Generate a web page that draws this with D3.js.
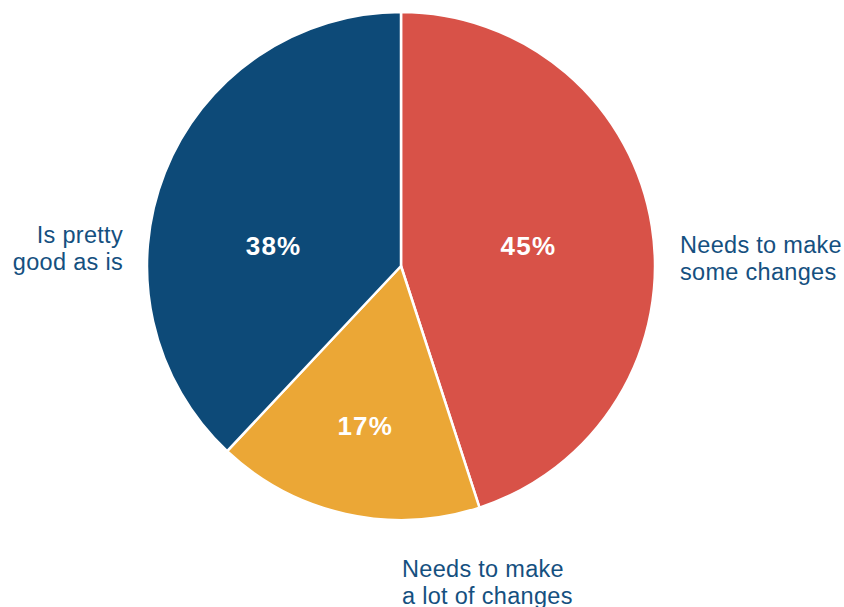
<!DOCTYPE html>
<html><head><meta charset="utf-8">
<script src="https://cdn.jsdelivr.net/npm/d3@7"></script>
<style>
html,body{margin:0;padding:0;background:#fff;}
svg{display:block;}
text{font-family:"Liberation Sans",Arial,Helvetica,sans-serif;}
</style></head>
<body><svg id="c" width="844" height="607"></svg>
<script>
const categories = ["Needs to make some changes", "Needs to make a lot of changes", "Is pretty good as is"];
const values = [45, 17, 38];
const labelLines = [["Needs to make", "some changes"], ["Needs to make", "a lot of changes"], ["Is pretty", "good as is"]];
const colors = ["#d85248", "#eba736", "#0d4a78"];

const W = 844, H = 607;
const cx = 401, cy = 266, R = 254;
const svg = d3.select("#c");
const g = svg.append("g").attr("transform", `translate(${cx},${cy})`);

const pie = d3.pie().sort(null).value(d => d)(values);
const arc = d3.arc().innerRadius(0).outerRadius(R);

g.selectAll("path").data(pie).enter().append("path")
  .attr("d", arc)
  .attr("fill", (d, i) => colors[i])
  .attr("stroke", "#fff").attr("stroke-width", 2.5).attr("stroke-linejoin", "round");

// percentage labels
const pctPos = [
  (d) => { const a = (d.startAngle + d.endAngle) / 2; return [Math.sin(a) * 129, -Math.cos(a) * 129]; },
  (d) => { const a = (d.startAngle + d.endAngle) / 2; return [Math.sin(a) * 164, -Math.cos(a) * 164]; },
  (d) => { const p = pctPos[0](pie[0]); return [-p[0], p[1]]; }
];
g.selectAll("text.pct").data(pie).enter().append("text")
  .attr("class", "pct")
  .attr("transform", (d, i) => { const p = pctPos[i](d); return `translate(${p[0]},${p[1]})`; })
  .attr("text-anchor", "middle").attr("dy", "0.36em")
  .attr("fill", "#fff").attr("font-weight", "bold").attr("font-size", 26)
  .attr("letter-spacing", 1.2)
  .text(d => d.value + "%");

// outer labels
const outer = [
  { x: 680, y: 253, anchor: "start" },
  { x: 402, y: 577, anchor: "start" },
  { x: 123, y: 243, anchor: "end" }
];
labelLines.forEach((lines, i) => {
  const t = svg.append("text")
    .attr("x", outer[i].x).attr("y", outer[i].y)
    .attr("text-anchor", outer[i].anchor)
    .attr("fill", "#15507f").attr("font-size", 23.5)
    .attr("letter-spacing", 0.3);
  lines.forEach((ln, j) => t.append("tspan").attr("x", outer[i].x).attr("dy", j === 0 ? 0 : 26.5).text(ln));
});
</script></body></html>
